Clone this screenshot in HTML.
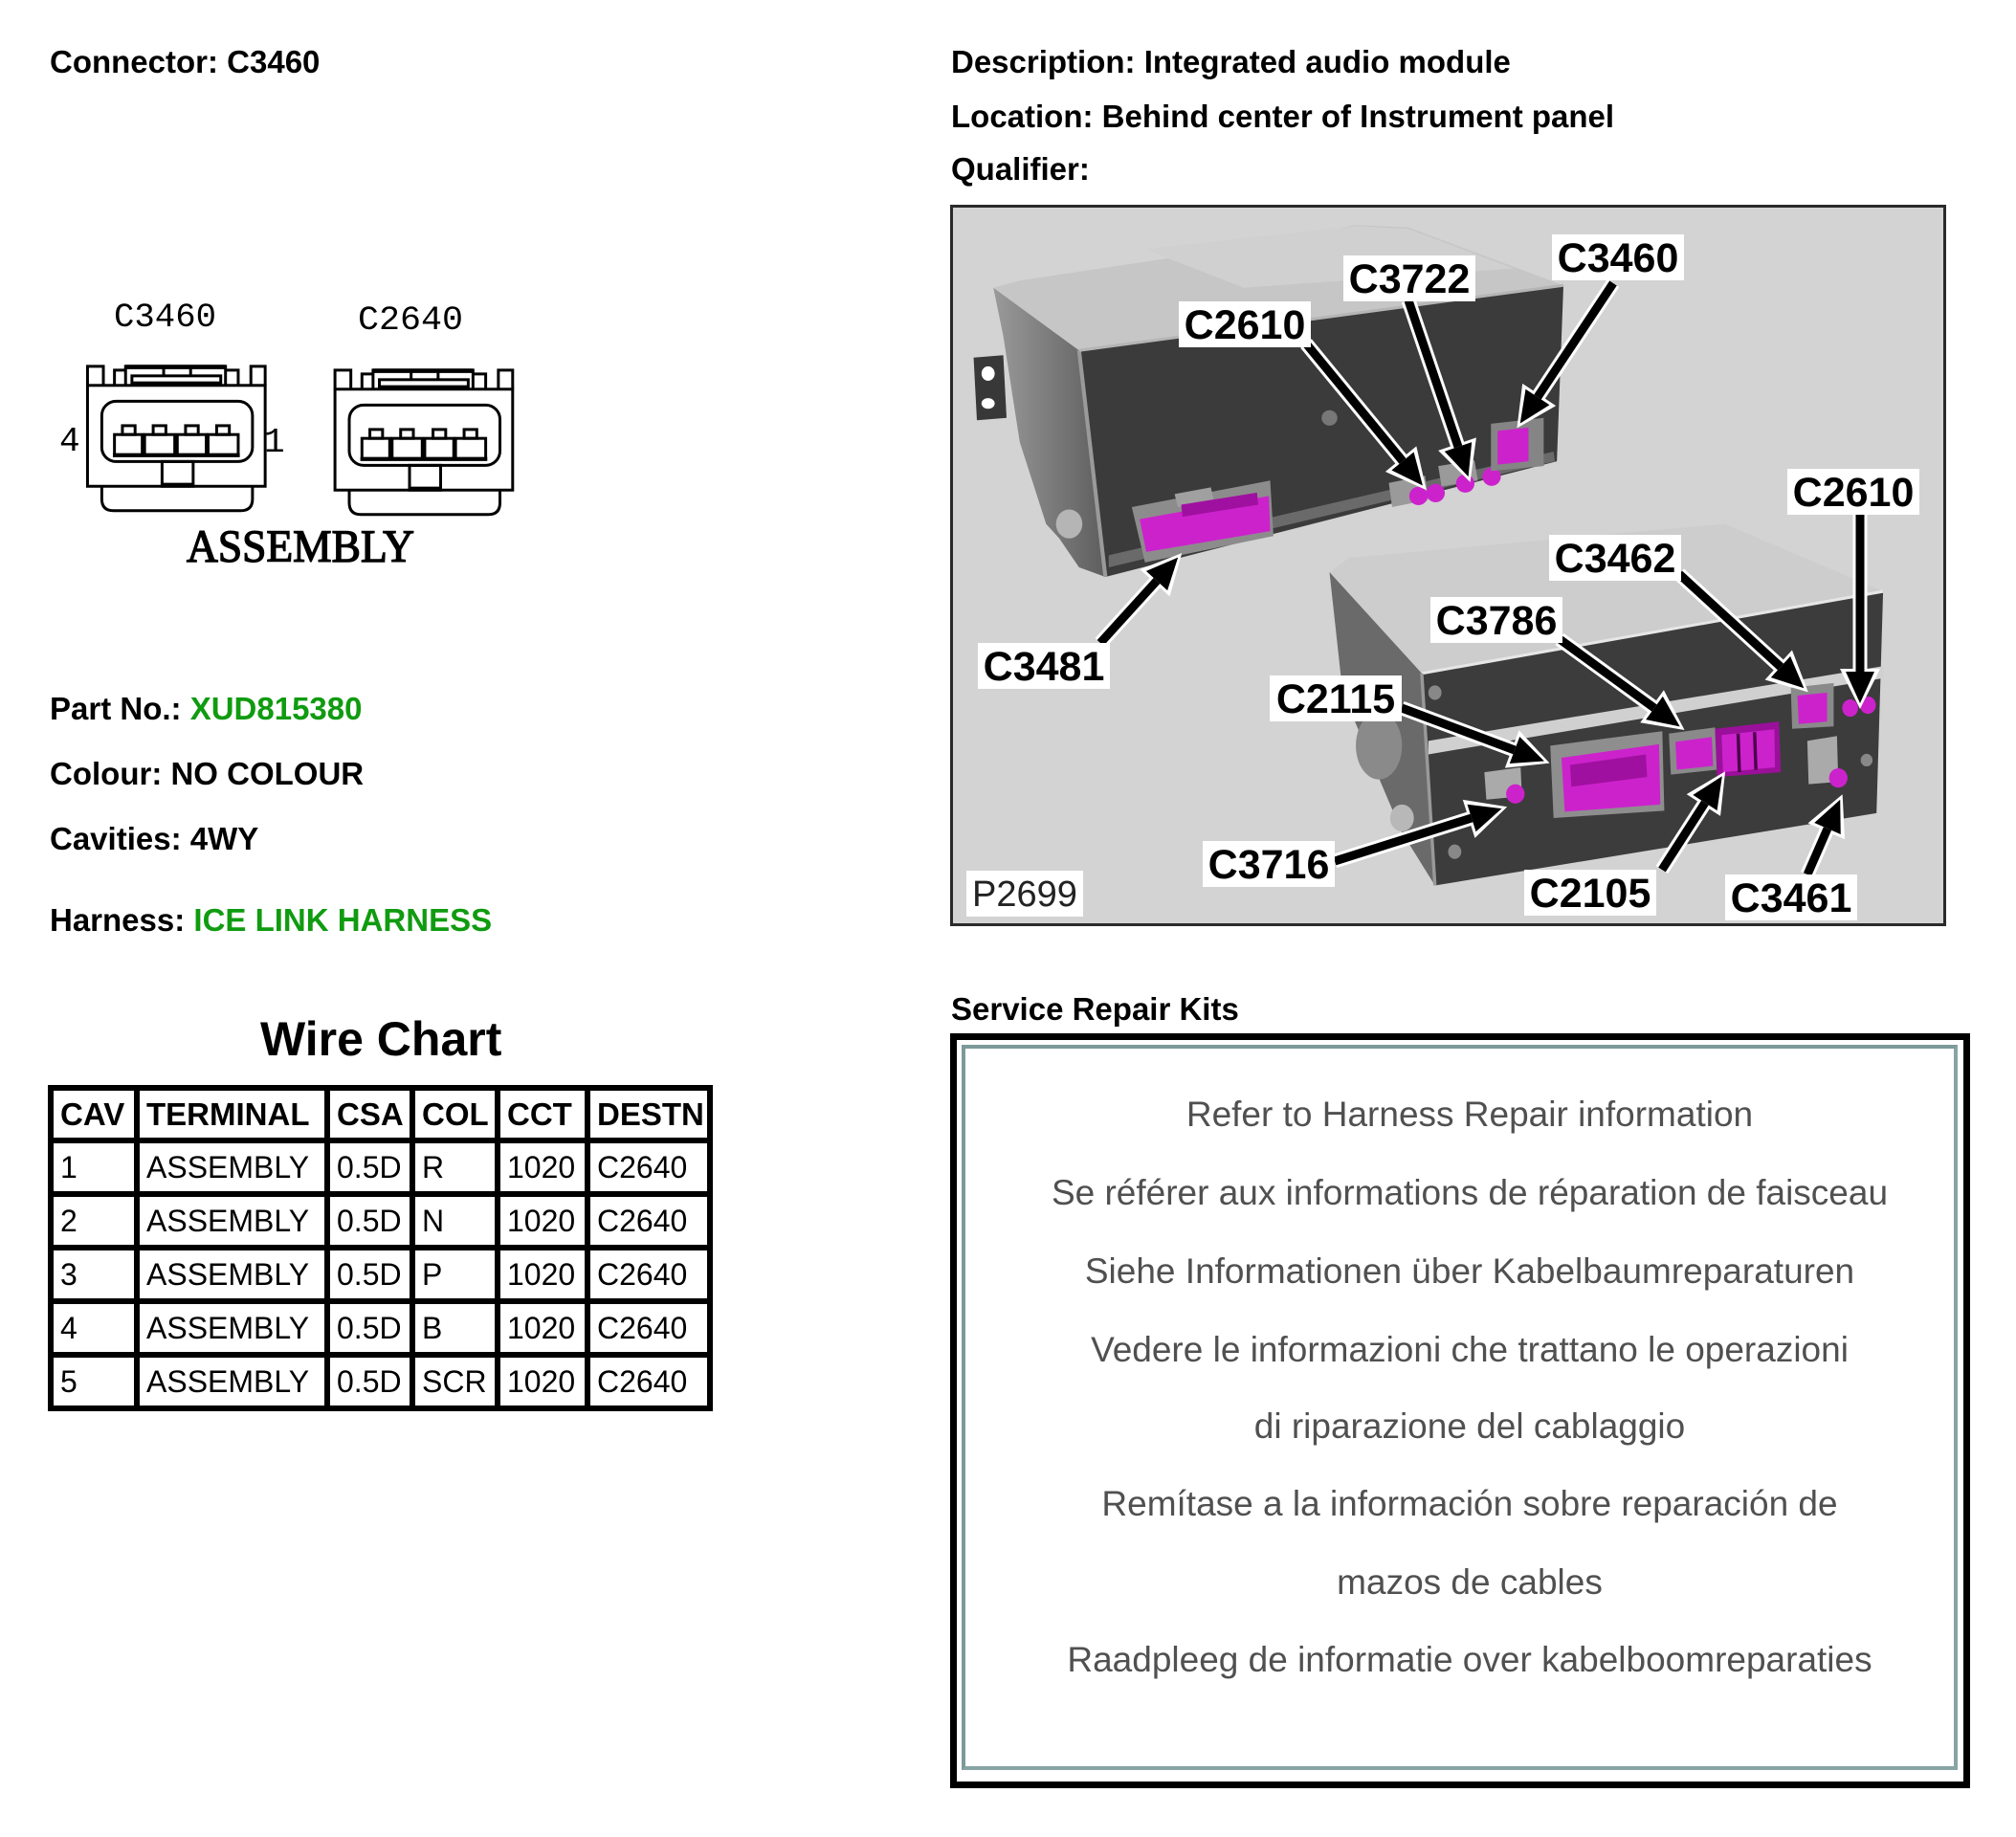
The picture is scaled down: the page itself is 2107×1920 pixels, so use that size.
<!DOCTYPE html>
<html>
<head>
<meta charset="utf-8">
<style>
html,body{margin:0;padding:0;}
body{background:#fff;width:2107px;height:1920px;position:relative;overflow:hidden;font-family:"Liberation Sans",Arial,sans-serif;}
.t{position:absolute;font-weight:bold;font-size:33px;line-height:1;white-space:nowrap;color:#000;}
.g{color:#109b10;}
.lbl{position:absolute;width:138px;height:48px;background:#fff;font-weight:bold;font-size:43px;line-height:50px;text-align:center;color:#000;white-space:nowrap;}
table.wc{position:absolute;left:50px;top:1134px;border-collapse:separate;border-spacing:6px;background:#000;table-layout:fixed;}
table.wc td{background:#fff;padding:0 0 0 7px;font-size:32px;line-height:50px;height:50px;white-space:nowrap;overflow:hidden;color:#000;box-sizing:border-box;}
table.wc tr.h td{font-weight:bold;font-size:33px;height:49px;line-height:49px;}
.sv{position:absolute;left:1036px;width:1000px;text-align:center;font-size:37px;line-height:1;color:#505050;white-space:nowrap;}
</style>
</head>
<body>

<div class="t" style="left:52px;top:48px;">Connector: C3460</div>
<div class="t" style="left:994px;top:48px;">Description: Integrated audio module</div>
<div class="t" style="left:994px;top:105px;">Location: Behind center of Instrument panel</div>
<div class="t" style="left:994px;top:160px;">Qualifier:</div>

<div class="t" style="left:52px;top:724px;">Part No.: <span class="g">XUD815380</span></div>
<div class="t" style="left:52px;top:792px;">Colour: NO COLOUR</div>
<div class="t" style="left:52px;top:860px;">Cavities: 4WY</div>
<div class="t" style="left:52px;top:945px;">Harness: <span class="g">ICE LINK HARNESS</span></div>

<div class="t" style="left:272px;top:1061px;font-size:50px;">Wire Chart</div>

<table class="wc">
<colgroup><col style="width:84px"><col style="width:193px"><col style="width:83px"><col style="width:83px"><col style="width:88px"><col style="width:122px"></colgroup>
<tr class="h"><td>CAV</td><td>TERMINAL</td><td>CSA</td><td>COL</td><td>CCT</td><td>DESTN</td></tr>
<tr><td>1</td><td>ASSEMBLY</td><td>0.5D</td><td>R</td><td>1020</td><td>C2640</td></tr>
<tr><td>2</td><td>ASSEMBLY</td><td>0.5D</td><td>N</td><td>1020</td><td>C2640</td></tr>
<tr><td>3</td><td>ASSEMBLY</td><td>0.5D</td><td>P</td><td>1020</td><td>C2640</td></tr>
<tr><td>4</td><td>ASSEMBLY</td><td>0.5D</td><td>B</td><td>1020</td><td>C2640</td></tr>
<tr><td>5</td><td>ASSEMBLY</td><td>0.5D</td><td>SCR</td><td>1020</td><td>C2640</td></tr>
</table>

<div class="t" style="left:994px;top:1038px;">Service Repair Kits</div>
<div style="position:absolute;left:993px;top:1080px;width:1066px;height:789px;border:7px solid #000;box-sizing:border-box;"></div>
<div style="position:absolute;left:1005px;top:1092px;width:1041px;height:758px;border:4px solid #88a4a4;border-top-color:#7c9a9a;border-left-color:#7c9a9a;box-sizing:border-box;"></div>

<div class="sv" style="top:1146px;">Refer to Harness Repair information</div>
<div class="sv" style="top:1228px;">Se référer aux informations de réparation de faisceau</div>
<div class="sv" style="top:1310px;">Siehe Informationen über Kabelbaumreparaturen</div>
<div class="sv" style="top:1392px;">Vedere le informazioni che trattano le operazioni</div>
<div class="sv" style="top:1472px;">di riparazione del cablaggio</div>
<div class="sv" style="top:1553px;">Remítase a la información sobre reparación de</div>
<div class="sv" style="top:1635px;">mazos de cables</div>
<div class="sv" style="top:1716px;">Raadpleeg de informatie over kabelboomreparaties</div>

<svg width="2107" height="1920" style="position:absolute;left:0;top:0;" xmlns="http://www.w3.org/2000/svg">
<defs>
<marker id="ab" markerUnits="userSpaceOnUse" markerWidth="40" markerHeight="40" refX="0" refY="15" orient="auto" overflow="visible"><path d="M0,0 L33,15 L0,30 Z" fill="#000"/></marker>
<marker id="aw" markerUnits="userSpaceOnUse" markerWidth="50" markerHeight="50" refX="0" refY="15" orient="auto" overflow="visible"><path d="M-3,-6 L39,15 L-3,36 Z" fill="#fff"/></marker>
<linearGradient id="side" x1="0" y1="0" x2="1" y2="0"><stop offset="0" stop-color="#9a9a9a"/><stop offset="1" stop-color="#5e5e5e"/></linearGradient>
</defs>

<!-- Connector drawings -->
<g transform="translate(50,300) scale(0.3316)" stroke="#000" stroke-width="9" fill="none">
  <g id="conn">
    <rect x="125" y="310" width="560" height="318"/>
    <path d="M125,310 V250 H175 V310"/>
    <path d="M210,310 V262 H245"/>
    <path d="M245,310 V250 H560 V310" />
    <line x1="245" y1="252" x2="560" y2="252" stroke-width="14"/>
    <rect x="265" y="280" width="280" height="22"/>
    <line x1="365" y1="256" x2="365" y2="280"/>
    <line x1="450" y1="256" x2="450" y2="280"/>
    <path d="M560,262 H600 V310"/>
    <path d="M640,310 V250 H685 V310"/>
    <rect x="170" y="360" width="475" height="190" rx="45"/>
    <rect x="210" y="465" width="90" height="65"/><rect x="235" y="437" width="40" height="28"/>
    <rect x="305" y="465" width="95" height="65"/><rect x="332" y="437" width="40" height="28"/>
    <rect x="408" y="465" width="92" height="65"/><rect x="434" y="437" width="40" height="28"/>
    <rect x="505" y="465" width="95" height="65"/><rect x="532" y="437" width="40" height="28"/>
    <line x1="300" y1="465" x2="300" y2="530" stroke-width="14"/>
    <line x1="404" y1="465" x2="404" y2="530" stroke-width="14"/>
    <line x1="502" y1="465" x2="502" y2="530" stroke-width="14"/>
    <line x1="205" y1="530" x2="605" y2="530" stroke-width="13"/>
    <rect x="360" y="550" width="98" height="78"/>
    <line x1="360" y1="624" x2="458" y2="624" stroke-width="14"/>
    <path d="M170,628 V668 Q170,705 207,705 H608 Q645,705 645,668 V628"/>
  </g>
  <use href="#conn" transform="translate(780,12)"/>
</g>
<g font-family="'Liberation Mono','DejaVu Sans Mono',monospace" fill="#000">
  <text x="119" y="341" font-size="35" textLength="107" lengthAdjust="spacingAndGlyphs">C3460</text>
  <text x="374" y="344" font-size="35" textLength="110" lengthAdjust="spacingAndGlyphs">C2640</text>
  <text x="62" y="471" font-size="36">4</text>
  <text x="276" y="472" font-size="36">1</text>
</g>
<text x="195" y="587" font-family="'Liberation Serif','DejaVu Serif',serif" font-size="48" textLength="238" lengthAdjust="spacingAndGlyphs" fill="#000" stroke="#000" stroke-width="1.4">ASSEMBLY</text>

<!-- Photo -->
<rect x="994.5" y="215.5" width="1038" height="751" fill="#d3d3d3" stroke="#2a2a2a" stroke-width="3"/>
<g transform="translate(990,200) scale(0.6888,0.5038)">
  <!-- top unit -->
  <polygon points="70,200 110,185 330,140 620,70 700,75 935,195 200,330" fill="#c6c6c6"/>
  <polygon points="300,120 620,72 700,78 860,160 450,200" fill="#d0d0d0"/>
  <polygon points="70,200 200,330 240,800 200,780 170,720 150,690 110,520 85,300" fill="url(#side)"/>
  <polygon points="200,330 935,195 925,560 240,800" fill="#3b3b3b"/>
  <line x1="200" y1="330" x2="240" y2="800" stroke="#9a9a9a" stroke-width="6"/>
  <line x1="200" y1="330" x2="935" y2="195" stroke="#b5b5b5" stroke-width="6"/>
  <polygon points="245,755 920,540 922,560 245,780" fill="#6a6a6a"/>
  <polygon points="40,345 85,340 90,470 45,475" fill="#383838"/>
  <ellipse cx="62" cy="378" rx="10" ry="15" fill="#fff"/>
  <ellipse cx="62" cy="440" rx="10" ry="11" fill="#fff"/>
  <ellipse cx="185" cy="690" rx="20" ry="30" fill="#b5b5b5"/>
  <polygon points="280,655 490,600 495,715 300,770" fill="#8c8c8c"/>
  <polygon points="292,680 488,632 490,705 302,748" fill="#cc22cc"/>
  <polygon points="345,628 400,614 405,645 350,655" fill="#a0a0a0"/>
  <polygon points="355,650 470,625 472,650 357,675" fill="#a010a0"/>
  <polygon points="670,605 725,590 730,640 675,655" fill="#9a9a9a"/>
  <polygon points="745,570 800,558 805,600 750,612" fill="#9a9a9a"/>
  <ellipse cx="715" cy="632" rx="14" ry="19" fill="#cc22cc"/>
  <ellipse cx="741" cy="626" rx="14" ry="19" fill="#cc22cc"/>
  <ellipse cx="786" cy="606" rx="14" ry="19" fill="#cc22cc"/>
  <ellipse cx="826" cy="592" rx="14" ry="19" fill="#cc22cc"/>
  <polygon points="825,482 905,470 905,570 825,580" fill="#858585"/>
  <polygon points="835,497 882,490 882,560 835,567" fill="#cc22cc"/>
  <ellipse cx="580" cy="470" rx="12" ry="16" fill="#777"/>
  <!-- bottom unit -->
  <polygon points="580,790 610,760 1180,690 1420,830 1420,845 720,1000" fill="#cdcdcd"/>
  <polygon points="580,790 720,1000 740,1440 690,1330 600,1040" fill="#6a6a6a"/>
  <ellipse cx="655" cy="1150" rx="35" ry="70" fill="#8a8a8a"/>
  <polygon points="720,1000 1420,830 1410,1290 740,1440" fill="#3c3c3c"/>
  <line x1="720" y1="1000" x2="1420" y2="830" stroke="#e6e6e6" stroke-width="6"/>
  <line x1="720" y1="1000" x2="740" y2="1440" stroke="#999" stroke-width="5"/>
  <polygon points="730,1140 1420,985 1420,1010 730,1168" fill="#d0d0d0"/>
  <polygon points="915,1150 1085,1120 1088,1285 920,1300" fill="#8e8e8e"/>
  <polygon points="932,1175 1080,1147 1082,1272 937,1287" fill="#cc22cc"/>
  <polygon points="945,1190 1060,1168 1062,1215 947,1235" fill="#a010a0"/>
  <polygon points="1095,1125 1165,1112 1168,1200 1098,1210" fill="#8a8a8a"/>
  <polygon points="1105,1142 1160,1132 1162,1192 1107,1200" fill="#cc22cc"/>
  <polygon points="1165,1115 1262,1100 1265,1205 1168,1215" fill="#9a109a"/>
  <polygon points="1175,1128 1255,1116 1256,1195 1177,1205" fill="#cc22cc"/>
  <line x1="1200" y1="1125" x2="1202" y2="1205" stroke="#4a004a" stroke-width="5"/>
  <line x1="1225" y1="1122" x2="1227" y2="1200" stroke="#4a004a" stroke-width="5"/>
  <polygon points="1280,1030 1345,1020 1345,1110 1282,1115" fill="#8a8a8a"/>
  <polygon points="1290,1046 1335,1040 1335,1100 1292,1105" fill="#cc22cc"/>
  <ellipse cx="1370" cy="1072" rx="12" ry="18" fill="#cc22cc"/>
  <ellipse cx="1397" cy="1066" rx="12" ry="18" fill="#cc22cc"/>
  <polygon points="815,1205 870,1195 872,1255 818,1262" fill="#aaaaaa"/>
  <ellipse cx="862" cy="1250" rx="14" ry="20" fill="#cc22cc"/>
  <polygon points="1305,1140 1350,1130 1352,1225 1307,1230" fill="#aaaaaa"/>
  <ellipse cx="1352" cy="1217" rx="14" ry="20" fill="#cc22cc"/>
  <ellipse cx="690" cy="1300" rx="18" ry="28" fill="#b8b8b8"/>
  <ellipse cx="740" cy="1040" rx="10" ry="15" fill="#888"/>
  <ellipse cx="770" cy="1370" rx="10" ry="15" fill="#888"/>
  <ellipse cx="1395" cy="1180" rx="9" ry="13" fill="#888"/>
</g>

<!-- arrows -->
<g fill="none" stroke="#fff" stroke-width="15" marker-end="url(#aw)">
  <line x1="1365" y1="359" x2="1466" y2="482"/>
  <line x1="1472" y1="314" x2="1524" y2="467"/>
  <line x1="1686" y1="296" x2="1607" y2="415"/>
  <line x1="1150" y1="672" x2="1209" y2="607"/>
  <line x1="1944" y1="538" x2="1944" y2="702"/>
  <line x1="1755" y1="600" x2="1861" y2="697"/>
  <line x1="1630" y1="668" x2="1729" y2="740"/>
  <line x1="1465" y1="740" x2="1583" y2="784"/>
  <line x1="1395" y1="900" x2="1538" y2="855"/>
  <line x1="1737" y1="909" x2="1782" y2="839"/>
  <line x1="1889" y1="914" x2="1910" y2="866"/>
</g>
<g fill="none" stroke="#000" stroke-width="9" marker-end="url(#ab)">
  <line x1="1365" y1="359" x2="1466" y2="482"/>
  <line x1="1472" y1="314" x2="1524" y2="467"/>
  <line x1="1686" y1="296" x2="1607" y2="415"/>
  <line x1="1150" y1="672" x2="1209" y2="607"/>
  <line x1="1944" y1="538" x2="1944" y2="702"/>
  <line x1="1755" y1="600" x2="1861" y2="697"/>
  <line x1="1630" y1="668" x2="1729" y2="740"/>
  <line x1="1465" y1="740" x2="1583" y2="784"/>
  <line x1="1395" y1="900" x2="1538" y2="855"/>
  <line x1="1737" y1="909" x2="1782" y2="839"/>
  <line x1="1889" y1="914" x2="1910" y2="866"/>
</g>
</svg>

<div class="lbl" style="left:1622px;top:245px;">C3460</div>
<div class="lbl" style="left:1404px;top:267px;">C3722</div>
<div class="lbl" style="left:1232px;top:315px;">C2610</div>
<div class="lbl" style="left:1868px;top:490px;">C2610</div>
<div class="lbl" style="left:1619px;top:559px;">C3462</div>
<div class="lbl" style="left:1495px;top:624px;">C3786</div>
<div class="lbl" style="left:1022px;top:672px;">C3481</div>
<div class="lbl" style="left:1327px;top:706px;">C2115</div>
<div class="lbl" style="left:1257px;top:879px;">C3716</div>
<div class="lbl" style="left:1593px;top:909px;">C2105</div>
<div class="lbl" style="left:1803px;top:914px;">C3461</div>
<div class="lbl" style="left:1010px;top:910px;width:122px;font-weight:normal;font-size:38px;color:#222;">P2699</div>

</body>
</html>
